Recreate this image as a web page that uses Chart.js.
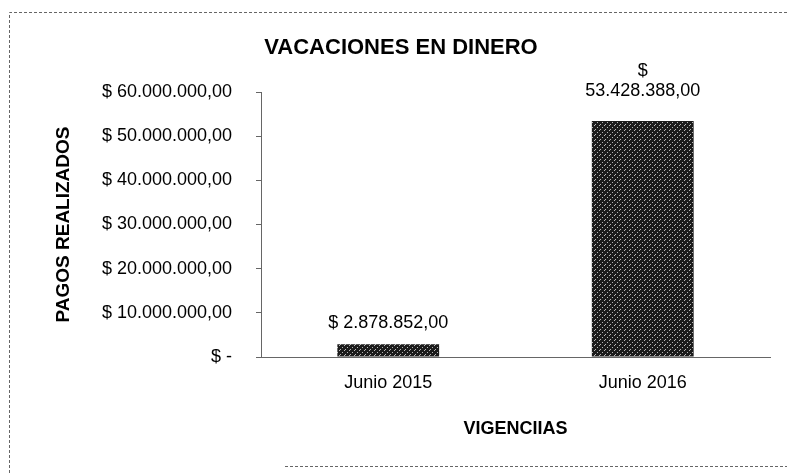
<!DOCTYPE html>
<html>
<head>
<meta charset="utf-8">
<script src="https://cdn.jsdelivr.net/npm/chart.js@4"></script>
<style>
  html, body { margin: 0; padding: 0; background: #fff; }
  #wrap { width: 787px; height: 473px; }
</style>
</head>
<body>
<div id="wrap"><canvas id="myChart" width="787" height="473"></canvas></div>
<script>
var categorias = ["Junio 2015", "Junio 2016"];
var pagos = [2878852, 53428388];
var etiquetas = [["$ 2.878.852,00"], ["$", "53.428.388,00"]];
var yTicks = [0, 10000000, 20000000, 30000000, 40000000, 50000000, 60000000];

function formatoPeso(v) {
    if (v === 0) return "$ -";
    var s = Math.round(v).toString().replace(/\B(?=(\d{3})+(?!\d))/g, ".");
    return "$ " + s + ",00";
}

// hatched fill like the scanned bars
function trama() {
    var c = document.createElement("canvas");
    c.width = 5; c.height = 5;
    var g = c.getContext("2d");
    g.fillStyle = "#1c1c1c";
    g.fillRect(0, 0, 5, 5);
    g.fillStyle = "#b8b8b8";
    g.fillRect(0, 4, 1, 1);
    g.fillRect(2, 2, 1, 1);
    g.fillRect(4, 0, 1, 1);
    return g.createPattern(c, "repeat");
}

var FONT = "'Liberation Sans', Arial, sans-serif";

var marco = {
    id: "marco",
    beforeDraw: function (chart) {
        var ctx = chart.ctx;
        ctx.save();
        ctx.strokeStyle = "#666";
        ctx.lineWidth = 1;
        ctx.setLineDash([3, 2]);
        ctx.beginPath();
        ctx.moveTo(9.5, 473);
        ctx.lineTo(9.5, 12.5);
        ctx.lineTo(787, 12.5);
        ctx.moveTo(285, 466.5);
        ctx.lineTo(787, 466.5);
        ctx.stroke();
        ctx.restore();
    }
};

var valores = {
    id: "valores",
    afterDatasetsDraw: function (chart) {
        var ctx = chart.ctx;
        var meta = chart.getDatasetMeta(0);
        ctx.save();
        ctx.fillStyle = "#000";
        ctx.font = "18px " + FONT;
        ctx.textAlign = "center";
        ctx.textBaseline = "middle";
        meta.data.forEach(function (bar, i) {
            var lineas = etiquetas[i];
            var y = bar.y - 21 - 9 * (lineas.length - 1);
            for (var k = lineas.length - 1; k >= 0; k--) {
                ctx.fillText(lineas[k], bar.x, y);
                y -= 20;
            }
        });
        ctx.restore();
    }
};

new Chart("myChart", {
    type: "bar",
    data: {
        labels: categorias,
        datasets: [{
            data: pagos,
            backgroundColor: trama(),
            borderWidth: 0,
            barPercentage: 0.4,
            categoryPercentage: 1
        }]
    },
    options: {
        responsive: false,
        animation: false,
        events: [],
        layout: { padding: { left: 32, right: 17, top: 0, bottom: 30 } },
        plugins: {
            legend: { display: false },
            tooltip: { enabled: false },
            title: {
                display: true,
                text: "VACACIONES EN DINERO",
                color: "#000",
                font: { family: FONT, size: 22, weight: "bold" },
                padding: { top: 35, bottom: 30.6 }
            }
        },
        scales: {
            x: {
                grid: { display: false, drawTicks: false },
                border: { display: true, color: "#666", dash: [3, 2] },
                ticks: { color: "#000", font: { family: FONT, size: 18 }, padding: 15 },
                title: {
                    display: true,
                    text: "VIGENCIIAS",
                    color: "#000",
                    font: { family: FONT, size: 18, weight: "bold" },
                    padding: { top: 0, bottom: 3 }
                },
                afterFit: function (s) { s.height = 86; }
            },
            y: {
                min: 0,
                max: 60000000,
                afterBuildTicks: function (s) {
                    s.ticks = yTicks.map(function (v) { return { value: v }; });
                },
                grid: { drawOnChartArea: false, tickLength: 5, color: "#666" },
                border: { display: true, color: "#666", dash: [3, 2] },
                ticks: {
                    color: "#000",
                    font: { family: FONT, size: 18 },
                    padding: 24,
                    callback: function (v) { return formatoPeso(v); }
                },
                title: {
                    display: true,
                    text: "PAGOS REALIZADOS",
                    color: "#000",
                    font: { family: FONT, size: 19, weight: "bold" },
                    padding: { top: 20, bottom: 0 }
                },
                afterFit: function (s) { s.width = 229; }
            }
        }
    },
    plugins: [marco, valores]
});
</script>
</body>
</html>
